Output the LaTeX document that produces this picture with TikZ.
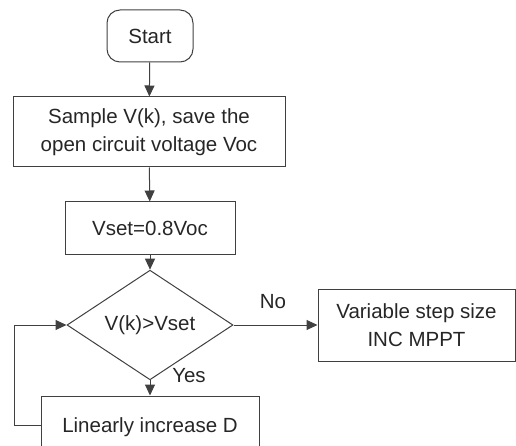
\documentclass[tikz,border=0pt]{standalone}
\usepackage{fontspec}
\setmainfont{Liberation Sans}
\usetikzlibrary{shapes.geometric,arrows.meta}
\begin{document}
\begin{tikzpicture}[x=1pt,y=1pt,
  every node/.style={font=\fontsize{20.5}{28}\selectfont, text=black!85, align=center, inner sep=0pt},
  box/.style={draw=black!75, line width=1pt, rectangle},
  term/.style={draw=black!75, line width=1pt, rectangle, rounded corners=13pt},
  dec/.style={draw=black!75, line width=1pt, diamond},
  conn/.style={draw=black!75, line width=1pt, -{Triangle[length=11pt,width=10pt]}}
]
\useasboundingbox (0,0) rectangle (516,-446);
\clip (0,0) rectangle (516,-446);
\node[term, minimum width=86pt, minimum height=52pt] (start) at (150,-36) {Start};
\node[box, minimum width=272pt, minimum height=70pt] (sample) at (149,-132) {Sample V(k), save the\\open circuit voltage Voc};
\node[box, minimum width=170pt, minimum height=52pt] (vset) at (150,-228) {Vset=0.8Voc};
\node[dec, minimum width=166pt, minimum height=70pt] (cmp) at (150,-325) {V(k)>Vset};
\node[box, minimum width=197pt, minimum height=72pt] (inc) at (416.5,-325) {Variable step size\\INC MPPT};
\node[box, minimum width=218pt, minimum height=62pt] (lin) at (150,-427) {Linearly increase D};
\node (no) at (273,-302) {No};
\node (yes) at (189,-376) {Yes};
\coordinate (c1) at (14,-425);
\coordinate (c2) at (14,-325);
\draw[conn] (start) -- (sample);
\draw[conn] (sample) -- (vset);
\draw[conn] (vset) -- (cmp);
\draw[conn] (cmp) -- (inc);
\draw[conn] (cmp) -- (lin);
\draw[conn] (lin.west |- c1) -- (c1) -- (c2) -- (cmp.west);
\end{tikzpicture}
\end{document}
